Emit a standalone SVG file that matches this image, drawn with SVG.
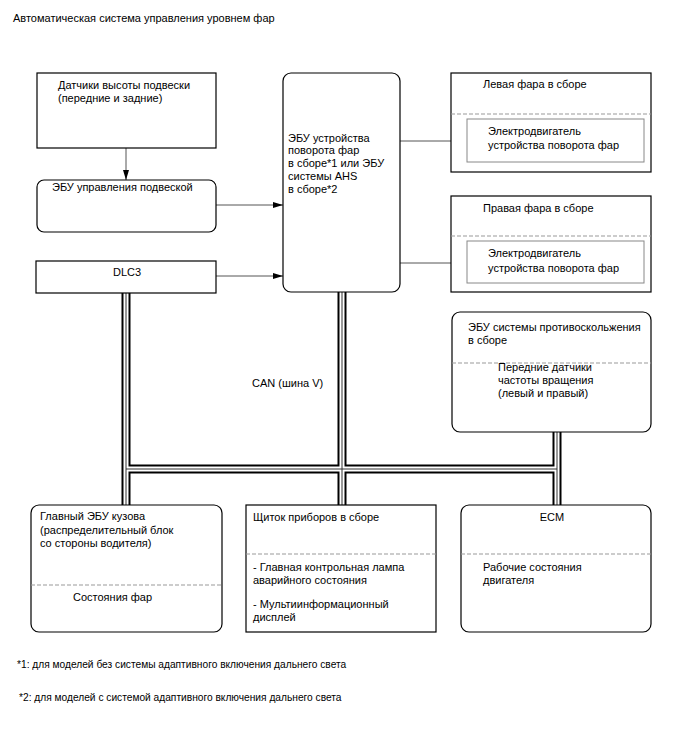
<svg xmlns="http://www.w3.org/2000/svg" width="688" height="755" viewBox="0 0 688 755">
<style>
text{font-family:"Liberation Sans",Arial,sans-serif;font-size:11px;fill:#000}
.fn{font-size:10.2px}
.box{fill:#fff;stroke:#000;stroke-width:1.2}
.inner{fill:#fff;stroke:#888;stroke-width:1}
.dash{stroke:#999;stroke-width:1;stroke-dasharray:4 2;fill:none}
.conn{stroke:#555;stroke-width:1;fill:none;marker-end:url(#ah)}
.busB{stroke:#000;stroke-width:9;fill:none}
.busW{stroke:#fff;stroke-width:5;fill:none}
.busC{stroke:#333;stroke-width:1;fill:none}
</style>
<defs>
<marker id="ah" viewBox="0 0 10 6" refX="10" refY="3" markerWidth="10" markerHeight="6" markerUnits="userSpaceOnUse" orient="auto">
<path d="M0,0 L10,3 L0,6 z" fill="#000"/>
</marker>
</defs>
<rect width="688" height="755" fill="#fff"/>
<text x="13" y="22">Автоматическая система управления уровнем фар</text>

<g id="bus">
<path class="busB" d="M126,293 V505 M342,292 V505 M557,432 V505 M126,469 H557"/>
<path class="busW" d="M126,293 V505 M342,292 V505 M557,432 V505 M126,469 H557"/>
<path class="busC" d="M126,293 V505 M342,292 V505 M557,432 V505 M126,469 H557"/>
</g>

<g id="connectors">
<line class="conn" x1="126" y1="148" x2="126" y2="180"/>
<line class="conn" x1="216" y1="205" x2="283" y2="205"/>
<line class="conn" x1="216" y1="276" x2="283" y2="276"/>
<line class="conn" x1="400" y1="141" x2="467" y2="141"/>
<line class="conn" x1="400" y1="263" x2="467" y2="263"/>
</g>

<g id="sensors">
<rect class="box" x="37" y="73" width="179" height="75"/>
<text x="58" y="89">Датчики высоты подвески</text>
<text x="58" y="102">(передние и задние)</text>
</g>

<g id="susp-ecu">
<rect class="box" x="37" y="180" width="179" height="52" rx="7"/>
<text x="52" y="191">ЭБУ управления подвеской</text>
</g>

<g id="dlc3">
<rect class="box" x="36" y="261" width="180" height="32"/>
<text x="127" y="276" text-anchor="middle">DLC3</text>
</g>

<g id="swivel-ecu">
<rect class="box" x="283" y="73" width="117" height="219" rx="8"/>
<text x="288" y="142">ЭБУ устройства</text>
<text x="288" y="154">поворота фар</text>
<text x="288" y="167">в сборе*1 или ЭБУ</text>
<text x="288" y="180">системы AHS</text>
<text x="288" y="193">в сборе*2</text>
</g>

<g id="left-lamp">
<rect class="box" x="451" y="73" width="200" height="99"/>
<text x="483" y="88">Левая фара в сборе</text>
<line class="dash" x1="451" y1="114" x2="651" y2="114"/>
<rect class="inner" x="467" y="119" width="177" height="43"/>
<text x="488" y="135">Электродвигатель</text>
<text x="488" y="149">устройства поворота фар</text>
</g>

<g id="right-lamp">
<rect class="box" x="451" y="196" width="200" height="96"/>
<text x="483" y="212">Правая фара в сборе</text>
<line class="dash" x1="451" y1="236" x2="651" y2="236"/>
<rect class="inner" x="467" y="241" width="177" height="42"/>
<text x="488" y="257">Электродвигатель</text>
<text x="488" y="272">устройства поворота фар</text>
</g>

<g id="abs-ecu">
<rect class="box" x="452" y="312" width="199" height="120" rx="8"/>
<text x="468" y="331">ЭБУ системы противоскольжения</text>
<text x="468" y="344">в сборе</text>
<line class="dash" x1="452" y1="363" x2="651" y2="363"/>
<text x="498" y="371">Передние датчики</text>
<text x="498" y="384">частоты вращения</text>
<text x="498" y="397">(левый и правый)</text>
</g>

<text x="252" y="387">CAN (шина V)</text>

<g id="body-ecu">
<rect class="box" x="31" y="505" width="191" height="127" rx="8"/>
<text x="40" y="520">Главный ЭБУ кузова</text>
<text x="40" y="534">(распределительный блок</text>
<text x="40" y="547">со стороны водителя)</text>
<line class="dash" x1="31" y1="585" x2="222" y2="585"/>
<text x="73" y="601">Состояния фар</text>
</g>

<g id="meter">
<rect class="box" x="246" y="505" width="190" height="127"/>
<text x="253" y="521">Щиток приборов в сборе</text>
<line class="dash" x1="246" y1="554" x2="436" y2="554"/>
<text x="253" y="571">- Главная контрольная лампа</text>
<text x="253" y="584">аварийного состояния</text>
<text x="253" y="608">- Мультиинформационный</text>
<text x="253" y="621">дисплей</text>
</g>

<g id="ecm">
<rect class="box" x="461" y="505" width="190" height="127" rx="8"/>
<text x="552" y="521" text-anchor="middle">ECM</text>
<line class="dash" x1="461" y1="554" x2="651" y2="554"/>
<text x="483" y="571">Рабочие состояния</text>
<text x="483" y="584">двигателя</text>
</g>

<text class="fn" x="17" y="668">*1: для моделей без системы адаптивного включения дальнего света</text>
<text class="fn" x="19" y="701">*2: для моделей с системой адаптивного включения дальнего света</text>
</svg>
